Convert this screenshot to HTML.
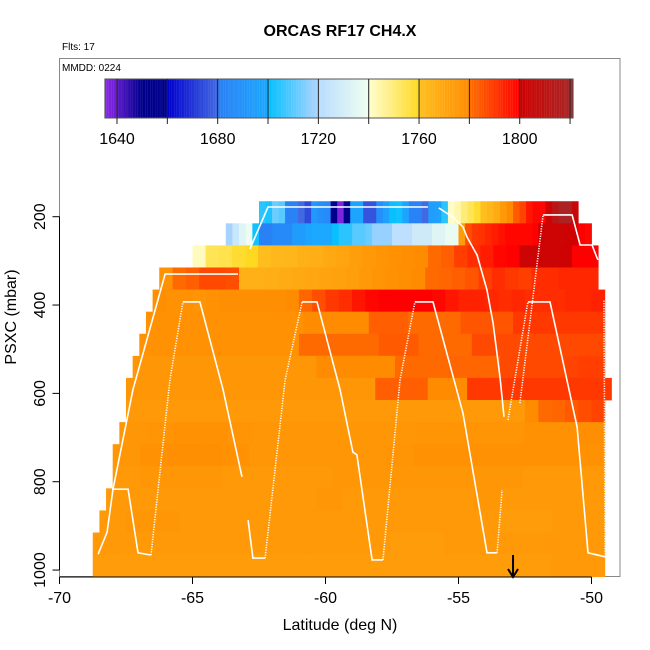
<!DOCTYPE html>
<html><head><meta charset="utf-8">
<style>
html,body{margin:0;padding:0;background:#fff;}
svg{display:block;font-family:"Liberation Sans",Arial,sans-serif;}
</style></head>
<body>
<svg id="chart" width="650" height="650" viewBox="0 0 650 650" xmlns="http://www.w3.org/2000/svg">
  <rect width="650" height="650" fill="#fff"/>
  <text x="340" y="36" text-anchor="middle" font-size="16" font-weight="bold">ORCAS RF17 CH4.X</text>
  <text x="62" y="50" font-size="10">Flts: 17</text>
  <rect x="59.5" y="58.5" width="560.5" height="518" fill="none" stroke="#888" stroke-width="1"/>
  <text x="62" y="71" font-size="10">MMDD: 0224</text>
  <g id="cells"></g>
  <g id="tracks"></g>
  <g id="cbar"></g>
  <g id="axes"></g>
  <text x="340" y="630" text-anchor="middle" font-size="16">Latitude (deg N)</text>
  <text x="16" y="317" text-anchor="middle" font-size="16" transform="rotate(-90 16 317)">PSXC (mbar)</text>
</svg>
<script>
// ---- data ----
const rowPressures = [190,240,290,340,390,440,490,540,590,640,690,740,790,840,890,940,990];
const rowLatStart = [-62.5,-63.75,-65,-66.25,-66.5,-66.75,-67,-67.25,-67.5,-67.5,-67.75,-68,-68,-68.25,-68.5,-68.75,-68.75];
const rowLatEnd = [-50.5,-50,-49.75,-49.75,-49.5,-49.5,-49.5,-49.5,-49.25,-49.5,-49.5,-49.5,-49.5,-49.5,-49.5,-49.5,-49.5];
const rowValues = [
 [1705,1703,1712,1710,1682,1682,1680,1674,1692,1688,1686,1652,1637,1652,1698,1698,1676,1676,1688,1696,1701,1702,1698,1682,1682,1680,1695,1697,1705,1741,1744,1750,1754,1758,1761,1764,1768,1775,1780,1784,1788,1796,1799,1799,1802,1812,1818,1818,1804],
 [1719,1726,1734,1739,1702,1681,1681,1686,1686,1686,1694,1694,1698,1700,1700,1700,1701,1705,1705,1710,1710,1712,1717,1717,1717,1722,1722,1722,1728,1728,1728,1734,1734,1738,1738,1774,1786,1790,1791,1793,1795,1797,1799,1799,1799,1799,1800,1801,1802,1802,1802,1801,1801,1800,1799],
 [1742,1754,1755,1758,1760,1761,1763,1764,1766,1767,1769,1771,1773,1775,1777,1778,1779,1780,1781,1783,1789,1792,1795,1799,1800,1802,1802,1802,1801,1800,1800],
 [1778,1781,1783,1787,1787,1786,1766,1766,1767,1768,1769,1770,1771,1772,1773,1775,1777,1778,1779,1780,1781,1782,1783,1785,1789,1792,1790,1789,1792,1792,1793,1793,1793],
 [1779,1778,1778,1777,1778,1779,1779,1779,1779,1779,1780,1782,1786,1790,1792,1796,1799,1800,1800,1800,1800,1799,1796,1794,1794,1793,1792,1793,1792,1792,1792,1793,1793,1794],
 [1778,1778,1778,1778,1778,1778,1778,1778,1778,1778,1778,1778,1780,1780,1780,1780,1780,1783,1783,1783,1781,1781,1781,1781,1785,1785,1785,1785,1790,1790,1790,1790,1790,1790,1790],
 [1778,1778,1778,1778,1778,1778,1778,1778,1778,1778,1778,1778,1781,1781,1781,1781,1781,1781,1784,1784,1784,1781,1781,1781,1781,1787,1787,1787,1787,1787,1787,1787,1787,1787,1787],
 [1776,1776,1776,1776,1776,1776,1776,1776,1776,1776,1776,1776,1776,1776,1780,1780,1780,1780,1780,1780,1781,1781,1781,1781,1782,1782,1782,1782,1787,1787,1787,1787,1787,1788,1789,1789],
 [1776,1776,1776,1776,1776,1776,1776,1776,1776,1776,1776,1776,1776,1776,1776,1776,1776,1776,1776,1783,1783,1783,1783,1780,1780,1780,1790,1790,1790,1790,1790,1790,1790,1790,1790,1790,1790],
 [1775,1775,1775,1775,1775,1775,1775,1775,1775,1775,1775,1775,1775,1775,1775,1775,1775,1775,1775,1775,1775,1775,1775,1775,1775,1775,1775,1775,1775,1775,1780,1781,1782,1784,1786,1788],
 [1776,1777,1778,1778,1777,1776,1776,1776,1776,1776,1776,1777,1777,1777,1777,1778,1778,1779],
 [1776,1778,1779,1779,1778,1776,1776,1776,1776,1776,1777,1778,1778,1778,1778,1778,1778,1778],
 [1775,1776,1776,1776,1775,1775,1775,1775,1776,1776,1776,1776,1776,1776,1776,1775,1775,1775],
 [1775,1775,1775,1775,1775,1775,1775,1775,1776,1775,1775,1775,1775,1775,1776,1775,1775,1775,1775],
 [1775,1776,1776,1775,1775,1775,1775,1775,1775,1775,1775,1775,1775,1775,1775,1774,1774,1775,1775],
 [1775,1775,1775,1775,1775,1775,1775,1775,1775,1775,1775,1774,1774,1775,1775,1775,1775,1775,1775],
 [1774,1774,1774,1774,1774,1774,1774,1774,1774,1774,1774,1774,1774,1774,1774,1774,1774,1775,1775]
];
const trackStyles = ['solid','solid','dotted','solid','solid','dotted','solid','dotted','solid','dotted','solid','solid','dotted','solid','dotted','solid','dotted'];
const trackLats = [
 [-68.55,-68.21,-67.99,-67.24,-66.03,-63.29],
 [-68.03,-67.42,-67.05,-66.56],
 [-66.56,-65.85,-65.36],
 [-65.36,-64.72,-63.85,-63.14],
 [-62.91,-62.73,-62.27],
 [-62.27,-61.52,-60.88],
 [-60.88,-60.32,-59.45,-58.97,-58.82,-58.25,-57.84],
 [-57.84,-57.2,-56.64],
 [-56.64,-55.96,-54.83,-53.93,-53.55],
 [-53.55,-53.36],
 [-62.84,-62.16,-56.15],
 [-55.74,-55.21,-54.83,-54.68,-54.30,-53.93,-53.70,-53.44,-53.29],
 [-53.14,-52.39],
 [-52.39,-51.56,-50.54,-50.13,-49.49],
 [-52.69,-51.82],
 [-51.82,-50.73,-50.43,-49.98,-49.76],
 [-49.49,-49.53]
];
const trackPs = [
 [964,914,817,592,330,330],
 [817,817,961,966],
 [966,570,393],
 [393,393,592,789],
 [887,973,973],
 [973,570,393],
 [393,393,592,733,739,977,977],
 [977,570,393],
 [393,393,645,961,961],
 [961,819],
 [273,178,178],
 [180,201,223,246,287,366,441,563,653],
 [660,393],
 [393,393,676,961,970],
 [622,196],
 [196,196,264,264,298],
 [970,389]
];
const xTicks = [-70,-65,-60,-55,-50];
const yTicks = [200,400,600,800,1000];
const cbTicks = [1640,1660,1680,1700,1720,1740,1760,1780,1800,1820];
const cbLabels = [1640,1680,1720,1760,1800];
const markerLat = [-52.95];
const cmapVals = [1635,1640,1640,1650,1660,1660,1680,1680,1700,1700,1720,1720,1740,1740,1760,1760,1780,1780,1800,1800,1822];
const cmapCols = ['#8a2be2','#6a1ad8','#5a18c8','#00008b','#00008b','#0000cd','#4169e1','#2a7ff5','#1ca8ff','#00bfff','#b0d4ff','#b8dcff','#f0fff0','#ffffd0','#ffd820','#ffc020','#ff8c00','#ff7000','#ff0000','#d00000','#a52a2a'];

// ---- scales ----
const X = lat => 59.5 + (lat + 70) * 26.6;
const Y = p => 216.7 + (p - 200) * 0.4417;
const CBX = v => 117 + (v - 1640) * 2.517;
const NS = 'http://www.w3.org/2000/svg';
function hex(c){return [1,3,5].map(i=>parseInt(c.substr(i,2),16));}
function color(v){
  if (v <= cmapVals[0]) return cmapCols[0];
  for (let i=0;i<cmapVals.length-1;i++){
    const a=cmapVals[i], b=cmapVals[i+1];
    if (b>a && v>=a && v<=b){
      const t=(v-a)/(b-a), c1=hex(cmapCols[i]), c2=hex(cmapCols[i+1]);
      return 'rgb('+c1.map((c,k)=>Math.round(c+(c2[k]-c)*t)).join(',')+')';
    }
  }
  return cmapCols[cmapCols.length-1];
}
function mk(tag, attrs, parent){
  const e=document.createElementNS(NS,tag);
  for (const k in attrs) e.setAttribute(k, attrs[k]);
  parent.appendChild(e); return e;
}

// ---- heatmap ----
const cells=document.getElementById('cells');
rowValues.forEach((vals,r)=>{
  const w=(rowLatEnd[r]-rowLatStart[r])/vals.length;
  const y0=Y(rowPressures[r]-25), y1=Y(rowPressures[r]+25);
  vals.forEach((v,i)=>{
    const x0=X(rowLatStart[r]+i*w), x1=X(rowLatStart[r]+(i+1)*w);
    const c=mk('rect',{x:x0,y:y0,width:x1-x0+0.4,height:y1-y0+0.4,fill:color(v)},cells);
    
    
  });
});

// ---- tracks ----
const tracks=document.getElementById('tracks');
trackLats.forEach((lats,s)=>{
  const pts=lats.map((l,i)=>X(l).toFixed(1)+','+Y(trackPs[s][i]).toFixed(1)).join(' ');
  const a={points:pts,fill:'none',stroke:'#fff','stroke-width':1.6};
  if (trackStyles[s]==='dotted') a['stroke-dasharray']='1.2 1.3';
  const pl=mk('polyline',a,tracks);
  
  
});

// ---- colorbar ----
const cb=document.getElementById('cbar');
for (let v=1635.2; v<1821.2; v+=0.5){
  const r=mk('rect',{x:CBX(v),y:79,width:1.4,height:39,fill:color(v+0.25)},cb);
  
  
}
mk('rect',{x:CBX(1635.2),y:79,width:CBX(1821.2)-CBX(1635.2),height:39,fill:'none',stroke:'#555','stroke-width':1},cb);
cbTicks.forEach(v=>{
  const l=mk('line',{x1:CBX(v),x2:CBX(v),y1:79,y2:124,stroke:'#222','stroke-width':1},cb);
  
  
});
cbLabels.forEach(v=>{
  const t=mk('text',{x:CBX(v),y:144,'text-anchor':'middle','font-size':16},cb);
  t.textContent=v;
  
  
});

// ---- axes ----
const ax=document.getElementById('axes');
mk('line',{x1:X(-70),x2:X(-50),y1:577,y2:577,stroke:'#000','stroke-width':1},ax);
mk('line',{x1:59.5,x2:59.5,y1:Y(200),y2:Y(1000),stroke:'#000','stroke-width':1},ax);
xTicks.forEach(v=>{
  mk('line',{x1:X(v),x2:X(v),y1:577,y2:584,stroke:'#000'},ax);
  const t=mk('text',{x:X(v),y:603,'text-anchor':'middle','font-size':16},ax);
  t.textContent=v;
  
  
});
yTicks.forEach(v=>{
  mk('line',{x1:52.5,x2:59.5,y1:Y(v),y2:Y(v),stroke:'#000'},ax);
  const t=mk('text',{x:45,y:Y(v),'text-anchor':'middle','font-size':16,transform:'rotate(-90 45 '+Y(v)+')'},ax);
  t.textContent=v;
  
  
});
markerLat.forEach(l=>{
  const g=mk('g',{},ax);
  
  
  mk('line',{x1:X(l),x2:X(l),y1:555,y2:576,stroke:'#000','stroke-width':2},g);
  mk('polyline',{points:(X(l)-5)+',569 '+X(l)+',577 '+(X(l)+5)+',569',fill:'none',stroke:'#000','stroke-width':2},g);
});
</script>
</body></html>
